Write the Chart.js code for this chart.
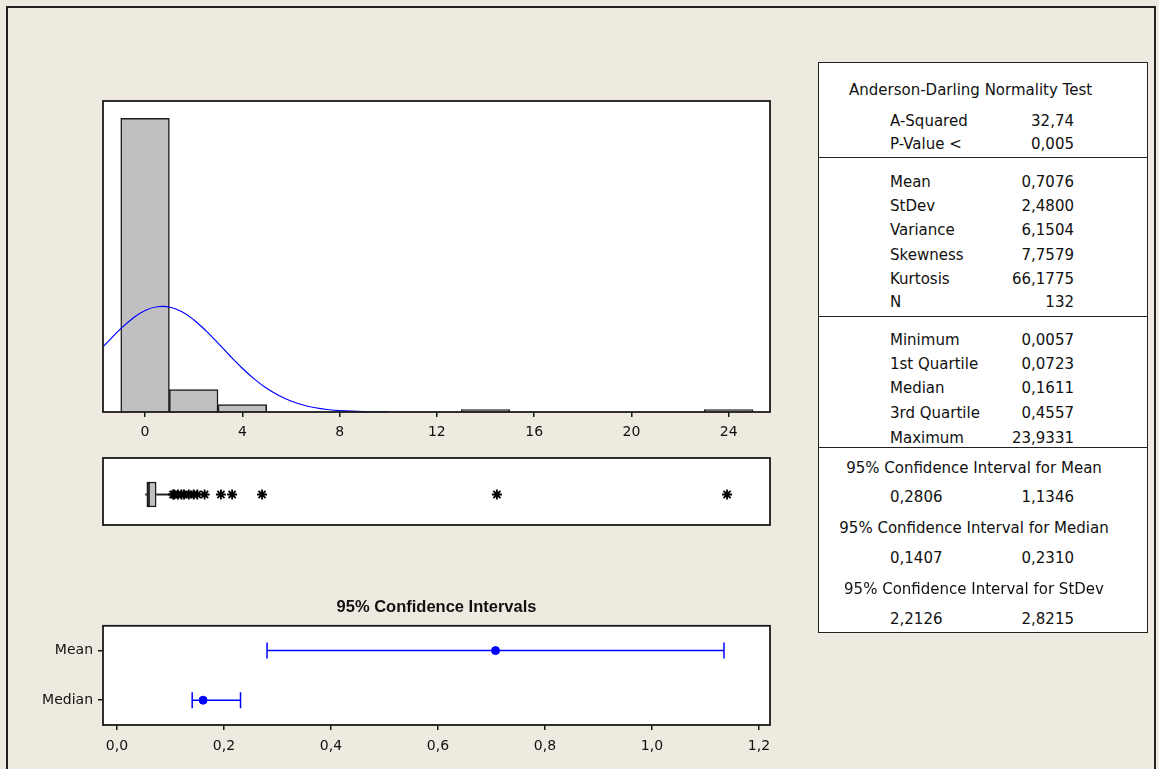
<!DOCTYPE html>
<html>
<head>
<meta charset="utf-8">
<script src="https://cdn.jsdelivr.net/npm/chart.js@4.4.1/dist/chart.umd.min.js"></script>
<style>
    html, body { margin: 0; padding: 0; }
    body { width: 1159px; height: 769px; background: #EEEAE0; position: relative; overflow: hidden; font-family: 'DejaVu Sans', sans-serif; }
    .moldura { position: absolute; left: 6px; top: 6px; width: 1150px; height: 800px; border: 2px solid #222; box-sizing: border-box; }
    .painel { position: absolute; }
    .tabela { position: absolute; left: 818px; top: 62px; width: 330px; height: 571px; background: #fff; border: 1.5px solid #222; box-sizing: border-box; }
    .linha { position: absolute; left: 0; right: 0; height: 0; border-top: 1.5px solid #222; }
    .txt { position: absolute; font-size: 15px; line-height: 18px; color: #111; white-space: nowrap; }
</style>
</head>
<body>
<div class="moldura"></div>
<div class="painel" style="left:99px; top:97px;"><canvas id="graficoHistograma" width="675" height="349"></canvas></div>
<div class="painel" style="left:99px; top:454px;"><canvas id="graficoBoxplot" width="675" height="75"></canvas></div>
<div class="painel" style="left:20px; top:590px;"><canvas id="graficoIntervalos" width="760" height="170"></canvas></div>
<div class="tabela" id="tabelaResumo"></div>

<script>
// --- Dados ---

// Histograma: centros das classes (largura 2) e frequências
const centrosClasses = [0, 2, 4, 6, 8, 10, 12, 14, 16, 18, 20, 22, 24];
const frequencias = [118, 9, 3, 0, 0, 0, 0, 1, 0, 0, 0, 0, 1];
const ticksHistograma = [0, 4, 8, 12, 16, 20, 24];

// Curva normal ajustada (em frequência)
const curvaX = [-1.73, -1, -0.5, 0, 0.5, 1, 1.5, 2, 2.5, 3, 3.5, 4, 4.5, 5, 5.5, 6, 6.5, 7, 7.5, 8, 9, 10];
const curvaY = [26.2, 33.5, 37.7, 40.8, 42.3, 42.2, 40.4, 37.1, 32.7, 27.7, 22.5, 17.6, 13.2, 9.5, 6.6, 4.4, 2.8, 1.7, 1.0, 0.56, 0.16, 0.04];

// Boxplot
const boxMinimo = 0.0057;
const boxQ1 = 0.0723;
const boxMediana = 0.1611;
const boxQ3 = 0.4557;
const boxBigodeSup = 1.0;
const outliers = [1.15, 1.2, 1.35, 1.5, 1.6, 1.8, 2.0, 2.15, 2.45, 3.12, 3.58, 4.81, 14.47, 23.9331];

// Intervalos de confiança 95%
const categoriasIC = ['Mean', 'Median'];
const estimativasIC = [0.7076, 0.1611];
const limitesInfIC = [0.2806, 0.1407];
const limitesSupIC = [1.1346, 0.2310];
const ticksIC = [0, 0.2, 0.4, 0.6, 0.8, 1.0, 1.2];
const rotulosTicksIC = ['0,0', '0,2', '0,4', '0,6', '0,8', '1,0', '1,2'];

// Tabela de resumo
const linhasAD = [['A-Squared', '32,74'], ['P-Value <', '0,005']];
const linhasDescritivas = [['Mean', '0,7076'], ['StDev', '2,4800'], ['Variance', '6,1504'], ['Skewness', '7,7579'], ['Kurtosis', '66,1775'], ['N', '132']];
const linhasQuartis = [['Minimum', '0,0057'], ['1st Quartile', '0,0723'], ['Median', '0,1611'], ['3rd Quartile', '0,4557'], ['Maximum', '23,9331']];
const linhasIC = [
    ['95% Confidence Interval for Mean', '0,2806', '1,1346'],
    ['95% Confidence Interval for Median', '0,1407', '0,2310'],
    ['95% Confidence Interval for StDev', '2,2126', '2,8215']
];

// --- Estilos ---
const corBarra = '#C0C0C0';
const corLinha = '#1a1a1a';
const corAzul = '#0000FF';
const fonteTicks = { family: "'DejaVu Sans', sans-serif", size: 14 };

Chart.defaults.animation = false;
Chart.defaults.color = '#111';

// Fundo branco e moldura na área do gráfico
const pluginMoldura = {
    id: 'moldura',
    beforeDraw(chart) {
        const { ctx, chartArea: a } = chart;
        ctx.save();
        ctx.fillStyle = '#fff';
        ctx.fillRect(a.left, a.top, a.right - a.left, a.bottom - a.top);
        ctx.restore();
    },
    afterDraw(chart) {
        const { ctx, chartArea: a } = chart;
        ctx.save();
        ctx.strokeStyle = corLinha;
        ctx.lineWidth = 1.8;
        ctx.strokeRect(a.left, a.top, a.right - a.left, a.bottom - a.top);
        ctx.restore();
    }
};

const fixarTicks = (valores) => (scale) => {
    scale.ticks = valores.map(v => ({ value: v }));
};

// GRÁFICO 1: Histograma com curva normal
new Chart(document.getElementById('graficoHistograma'), {
    type: 'bar',
    data: {
        datasets: [
            {
                type: 'line',
                data: curvaX.map((x, i) => ({ x, y: curvaY[i] })),
                borderColor: corAzul,
                borderWidth: 1.2,
                pointRadius: 0,
                tension: 0.4,
                order: 0
            },
            {
                data: centrosClasses.map((x, i) => ({ x, y: frequencias[i] })),
                backgroundColor: corBarra,
                borderColor: corLinha,
                borderWidth: 1.5,
                barPercentage: 1,
                categoryPercentage: 1,
                order: 1
            }
        ]
    },
    options: {
        responsive: false,
        layout: { autoPadding: false, padding: { left: 4, right: 4, top: 4, bottom: 0 } },
        plugins: { legend: { display: false }, tooltip: { enabled: false } },
        scales: {
            x: {
                type: 'linear',
                offset: false,
                min: -1.73,
                max: 25.7,
                afterBuildTicks: fixarTicks(ticksHistograma),
                afterFit: s => { s.height = 34; },
                grid: { display: true, offset: false, drawOnChartArea: false, drawTicks: true, tickLength: 5, color: corLinha, lineWidth: 1.5 },
                border: { display: false },
                ticks: { font: fonteTicks, padding: 7, color: '#111' }
            },
            y: { display: false, min: 0, max: 125 }
        }
    },
    plugins: [pluginMoldura]
});

// GRÁFICO 2: Boxplot
new Chart(document.getElementById('graficoBoxplot'), {
    type: 'bar',
    data: {
        datasets: [
            {
                type: 'scatter',
                data: outliers.map(x => ({ x, y: 0 })),
                pointStyle: 'star',
                pointRadius: 5,
                borderColor: '#000',
                borderWidth: 1.8,
                order: 0
            },
            {
                type: 'scatter',
                data: [{ x: boxMediana, y: 0 }],
                pointStyle: 'line',
                rotation: 90,
                pointRadius: 12.5,
                borderColor: '#000',
                borderWidth: 1.5,
                order: 1
            },
            {
                indexAxis: 'y',
                data: [{ x: [boxQ1, boxQ3], y: 0 }],
                backgroundColor: corBarra,
                borderColor: corLinha,
                borderWidth: 1.5,
                borderSkipped: false,
                barThickness: 25,
                order: 2
            },
            {
                type: 'line',
                data: [{ x: boxMinimo, y: 0 }, { x: boxQ1, y: 0 }],
                borderColor: '#222',
                borderWidth: 2,
                pointRadius: 0,
                order: 3
            },
            {
                type: 'line',
                data: [{ x: boxQ3, y: 0 }, { x: boxBigodeSup, y: 0 }],
                borderColor: '#222',
                borderWidth: 2,
                pointRadius: 0,
                order: 3
            }
        ]
    },
    options: {
        responsive: false,
        layout: { autoPadding: false, padding: 4 },
        plugins: { legend: { display: false }, tooltip: { enabled: false } },
        scales: {
            x: { type: 'linear', display: false, offset: false, min: -1.73, max: 25.7 },
            y: { type: 'linear', display: false, offset: false, min: -0.91, max: 1.09 }
        }
    },
    plugins: [pluginMoldura]
});

// GRÁFICO 3: Intervalos de confiança
const datasetsIC = categoriasIC.map((cat, i) => ({
    data: [{ x: limitesInfIC[i], y: cat }, { x: limitesSupIC[i], y: cat }],
    borderColor: corAzul,
    borderWidth: 1.5,
    pointStyle: 'line',
    rotation: 90,
    pointRadius: 8,
    pointBorderWidth: 1.5,
    pointBorderColor: corAzul,
    order: 1
}));
datasetsIC.push({
    data: categoriasIC.map((cat, i) => ({ x: estimativasIC[i], y: cat })),
    showLine: false,
    pointStyle: 'circle',
    pointRadius: 4,
    backgroundColor: corAzul,
    borderColor: corAzul,
    order: 0
});

new Chart(document.getElementById('graficoIntervalos'), {
    type: 'line',
    data: { datasets: datasetsIC },
    options: {
        responsive: false,
        layout: { autoPadding: false, padding: { left: 0, right: 10, top: 0, bottom: 0 } },
        plugins: {
            legend: { display: false },
            tooltip: { enabled: false },
            title: {
                display: true,
                fullSize: false,
                text: '95% Confidence Intervals',
                color: '#111',
                font: { family: "'Liberation Sans', Arial, sans-serif", size: 16.5, weight: 'bold', lineHeight: 1.2 },
                padding: { top: 8, bottom: 8 }
            }
        },
        scales: {
            x: {
                type: 'linear',
                min: -0.026,
                max: 1.2206,
                afterBuildTicks: fixarTicks(ticksIC),
                afterFit: s => { s.height = 35; },
                grid: { display: true, drawOnChartArea: false, drawTicks: true, tickLength: 5, color: corLinha, lineWidth: 1.5 },
                border: { display: false },
                ticks: { font: fonteTicks, padding: 8, color: '#111', callback: (v, idx) => rotulosTicksIC[idx] }
            },
            y: {
                type: 'category',
                labels: categoriasIC,
                offset: true,
                afterFit: s => { s.width = 83; },
                grid: { display: true, drawOnChartArea: false, drawTicks: true, tickLength: 5, color: corLinha, lineWidth: 1.5, offset: false },
                border: { display: false },
                ticks: { font: fonteTicks, padding: 5, color: '#111' }
            }
        }
    },
    plugins: [pluginMoldura]
});

// --- Tabela de resumo ---
const tabela = document.getElementById('tabelaResumo');
const X0 = 818, Y0 = 62;

const addTexto = (texto, y, opts) => {
    const el = document.createElement('div');
    el.className = 'txt';
    el.textContent = texto;
    el.style.top = (y - Y0 - 9) + 'px';
    if (opts.left !== undefined) el.style.left = (opts.left - X0) + 'px';
    if (opts.right !== undefined) el.style.right = (X0 + 330 - opts.right) + 'px';
    if (opts.center !== undefined) {
        el.style.left = (opts.center - X0 - 200) + 'px';
        el.style.width = '400px';
        el.style.textAlign = 'center';
    }
    tabela.appendChild(el);
};
const addDivisoria = (y) => {
    const el = document.createElement('div');
    el.className = 'linha';
    el.style.top = (y - Y0 - 1) + 'px';
    tabela.appendChild(el);
};

const colRotulo = 889;
const colValor = 1075;

addTexto('Anderson-Darling Normality Test', 89, { left: 848 });
[120, 143].forEach((y, i) => {
    addTexto(linhasAD[i][0], y, { left: colRotulo });
    addTexto(linhasAD[i][1], y, { right: colValor });
});
addDivisoria(157);
[181, 205, 229, 254, 278, 301].forEach((y, i) => {
    addTexto(linhasDescritivas[i][0], y, { left: colRotulo });
    addTexto(linhasDescritivas[i][1], y, { right: colValor });
});
addDivisoria(316);
[339, 363, 387, 412, 437].forEach((y, i) => {
    addTexto(linhasQuartis[i][0], y, { left: colRotulo });
    addTexto(linhasQuartis[i][1], y, { right: colValor });
});
addDivisoria(447);
[[467, 496], [527, 557], [588, 618]].forEach(([yt, yv], i) => {
    addTexto(linhasIC[i][0], yt, { center: 973 });
    addTexto(linhasIC[i][1], yv, { left: colRotulo });
    addTexto(linhasIC[i][2], yv, { right: colValor });
});
</script>
</body>
</html>
